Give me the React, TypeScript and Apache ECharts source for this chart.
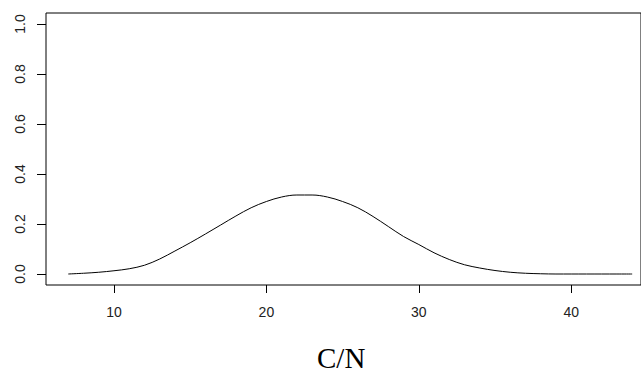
import React, { useEffect, useRef } from "react";
import * as echarts from "echarts";

// C/N values along the x axis and the curve's height at each one
const cnValues = [7, 8, 9, 10, 11, 12, 13, 14, 15, 16, 17, 18, 19, 20, 21, 22, 23, 24, 25, 26, 27, 28, 29, 30, 31, 32, 33, 34, 35, 36, 37, 38, 39, 40, 41, 42, 43, 44];
const curveValues = [0.0, 0.003, 0.007, 0.013, 0.021, 0.035, 0.06, 0.092, 0.125, 0.16, 0.196, 0.232, 0.265, 0.29, 0.308, 0.316, 0.316, 0.308, 0.29, 0.265, 0.23, 0.19, 0.15, 0.118, 0.085, 0.058, 0.037, 0.024, 0.014, 0.007, 0.003, 0.001, 0, 0, 0, 0, 0, 0];

const xTicks = [10, 20, 30, 40];
const yTicks = [0, 0.2, 0.4, 0.6, 0.8, 1.0];
const xTitle = "C/N";

const X_MIN = 5.54;
const X_MAX = 44.58;
const Y_MIN = -0.044;
const Y_MAX = 1.044;

export default function App() {
  const ref = useRef<HTMLDivElement>(null);

  useEffect(() => {
    if (!ref.current) return;
    const chart = echarts.init(ref.current, null, { renderer: "svg" });
    const labelFont = { fontFamily: "Liberation Sans, Arial, sans-serif", fontSize: 14, color: "#222" };
    chart.setOption({
      animation: false,
      backgroundColor: "#fff",
      grid: {
        show: true,
        left: 46,
        top: 13,
        bottom: 87,
        right: -1,
        borderColor: "#000",
        borderWidth: 1,
        backgroundColor: "transparent",
      },
      xAxis: {
        type: "value",
        min: X_MIN,
        max: X_MAX,
        axisLine: { show: false, onZero: false },
        splitLine: { show: false },
        axisTick: {
          show: true,
          length: 8,
          customValues: xTicks,
          lineStyle: { color: "#000", width: 1 },
        },
        axisLabel: {
          ...labelFont,
          margin: 20,
          customValues: xTicks,
          formatter: (v: number) => String(v),
        },
      },
      yAxis: {
        type: "value",
        min: Y_MIN,
        max: Y_MAX,
        axisLine: { show: false, onZero: false },
        splitLine: { show: false },
        axisTick: {
          show: true,
          inside: false,
          length: 9,
          customValues: yTicks,
          lineStyle: { color: "#000", width: 1 },
        },
        axisLabel: {
          ...labelFont,
          rotate: 90,
          margin: 19,
          customValues: yTicks,
          formatter: (v: number) => v.toFixed(1),
        },
      },
      series: [
        {
          type: "line",
          data: cnValues.map((x, i) => [x, curveValues[i]]),
          smooth: 0.35,
          showSymbol: false,
          lineStyle: { color: "#000", width: 1 },
        },
      ],
      graphic: [
        {
          type: "text",
          left: 343 - 26,
          top: 343,
          style: {
            text: xTitle,
            fontFamily: "Liberation Serif, Times New Roman, serif",
            fontSize: 29,
            fill: "#000",
          },
        },
      ],
    });
    return () => chart.dispose();
  }, []);

  return (
    <div
      ref={ref}
      style={{ position: "fixed", left: 0, top: 0, width: 641, height: 372, background: "#fff" }}
    />
  );
}
